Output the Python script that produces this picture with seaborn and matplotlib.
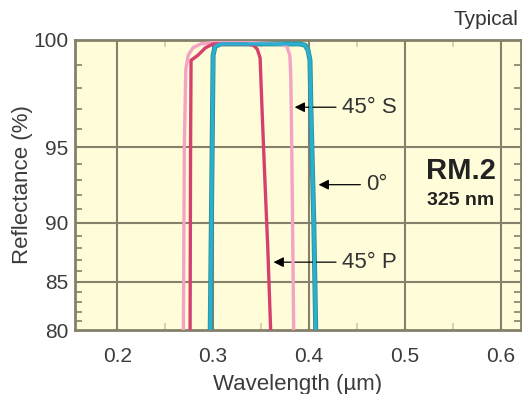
import numpy as np
import pandas as pd
import matplotlib
matplotlib.use('Agg')
import matplotlib.pyplot as plt
from matplotlib.ticker import FixedLocator
import seaborn as sns

sns.set_style('ticks')
plt.rcParams['font.family'] = ['Liberation Sans', 'DejaVu Sans']

# curves (wavelength in um, reflectance in %)
s45_wl = [0.269, 0.270, 0.2715, 0.274, 0.279, 0.287, 0.300, 0.340, 0.372, 0.377, 0.380, 0.381, 0.382, 0.384]
s45_r = [80, 95, 98.8, 99.4, 99.7, 99.85, 99.9, 99.9, 99.85, 99.75, 99.4, 98.5, 95, 80]

p45_wl = [0.276, 0.2765, 0.277, 0.284, 0.292, 0.300, 0.335, 0.342, 0.346, 0.349, 0.351, 0.354, 0.357, 0.360]
p45_r = [80, 95, 99.2, 99.4, 99.7, 99.85, 99.85, 99.8, 99.65, 99.3, 97, 93, 88, 80]

n0_wl = [0.297, 0.299, 0.300, 0.302, 0.308, 0.390, 0.396, 0.399, 0.401, 0.402, 0.405, 0.407]
n0_r = [80, 95, 99.4, 99.75, 99.85, 99.85, 99.8, 99.6, 99.2, 97, 90, 80]

x_ticks = [0.2, 0.3, 0.4, 0.5, 0.6]
y_ticks = [80, 85, 90, 95, 100]

bg = '#fffcda'
grid_c = '#858069'
txt_c = '#3c3c3c'


def fwd(y):
    return -np.log(110 - np.asarray(y, dtype=float))


def inv(v):
    return 110 - np.exp(-np.asarray(v, dtype=float))


fig = plt.figure(figsize=(5.22, 3.94), dpi=100)
ax = fig.add_axes([0.1437, 0.1624, 0.8543, 0.7361])
ax.set_facecolor(bg)
ax.set_yscale('function', functions=(fwd, inv))

df = pd.concat([
    pd.DataFrame({'wl': s45_wl, 'r': s45_r, 'pol': '45° S'}),
    pd.DataFrame({'wl': p45_wl, 'r': p45_r, 'pol': '45° P'}),
    pd.DataFrame({'wl': n0_wl, 'r': n0_r, 'pol': '0°'}),
])

# grid first so curves sit on top
for x in x_ticks:
    ax.axvline(x, color=grid_c, lw=1.5, zorder=1)
for y in y_ticks[1:-1]:
    ax.axhline(y, color=grid_c, lw=1.5, zorder=1)

# darker outline under the teal curve
sns.lineplot(data=df[df.pol == '0°'], x='wl', y='r', sort=False,
             color='#2f8f92', lw=3.6, ax=ax, zorder=3)
palette = {'45° S': '#f4a3c4', '45° P': '#d6406f', '0°': '#27b0d2'}
sns.lineplot(data=df, x='wl', y='r', hue='pol', palette=palette, sort=False,
             lw=2.4, ax=ax, legend=False, zorder=4)

ax.set_xlim(0.156, 0.621)
ax.set_ylim(80, 100)
ax.set_xticks(x_ticks)
ax.set_xticklabels([f'{v:.1f}' for v in x_ticks])
ax.set_yticks(y_ticks)
ax.yaxis.set_minor_locator(FixedLocator([v for v in range(81, 100) if v % 5]))
ax.xaxis.set_minor_locator(FixedLocator([0.25, 0.35, 0.45, 0.55]))
ax.tick_params(which='both', direction='in', top=True, right=True,
               color=grid_c, labelcolor=txt_c, labelsize=15)
ax.tick_params(which='major', length=0)
ax.tick_params(axis='x', which='major', pad=12)
ax.tick_params(axis='y', which='major', pad=5)
ax.tick_params(axis='y', which='minor', length=5, width=1.2)
ax.tick_params(axis='x', which='minor', length=5, width=1.2, color='#cfc9a6')
for sp in ax.spines.values():
    sp.set_color(grid_c)
    sp.set_linewidth(2)

ax.set_xlabel('Wavelength (µm)', fontsize=16, color=txt_c, labelpad=6)
ax.set_ylabel('Reflectance (%)', fontsize=16, color=txt_c, labelpad=0)

arrow = dict(arrowstyle='-|>', color='black', lw=0.9, mutation_scale=15,
             shrinkA=2, shrinkB=0)
ax.annotate('45° S', xy=(0.385, 97.1), xytext=(0.463, 97.1), fontsize=16,
            color='#333333', ha='center', va='center', arrowprops=arrow)
ax.annotate('0°', xy=(0.410, 92.7), xytext=(0.471, 92.7), fontsize=16,
            color='#333333', ha='center', va='center', arrowprops=arrow)
ax.annotate('45° P', xy=(0.363, 86.8), xytext=(0.463, 86.8), fontsize=16,
            color='#333333', ha='center', va='center', arrowprops=arrow)

ax.text(0.558, 93.6, 'RM.2', fontsize=21, fontweight='bold', color='#222222',
        ha='center', va='center')
ax.text(0.558, 91.65, '325 nm', fontsize=14, fontweight='bold', color='#222222',
        ha='center', va='center')
fig.text(0.994, 0.95, 'Typical', fontsize=15, color='#333333',
         ha='right', va='center')

plt.savefig('out.png', dpi=100)
